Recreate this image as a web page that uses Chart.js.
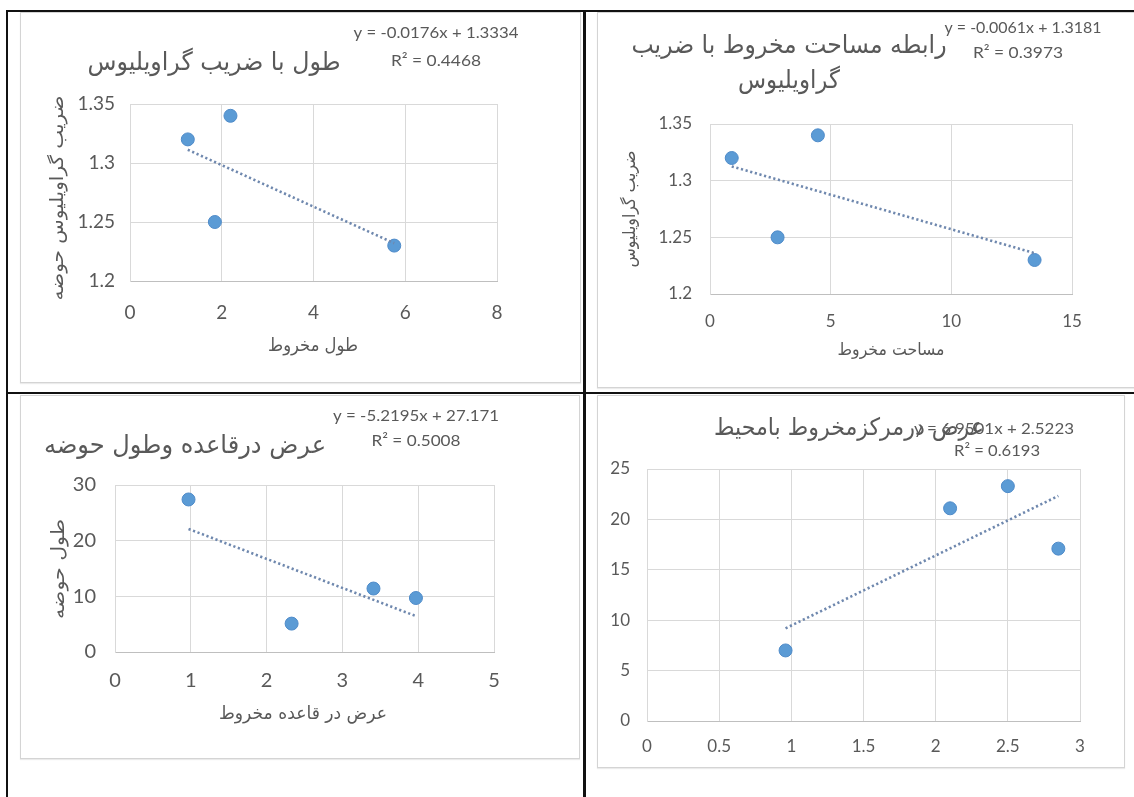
<!DOCTYPE html>
<html lang="fa">
<head>
<meta charset="utf-8">
<title>نمودارهای مخروط افکنه</title>
<script src="https://cdn.jsdelivr.net/npm/chart.js@4.4.1/dist/chart.umd.min.js"></script>
<style>
  html, body { margin: 0; padding: 0; background: #ffffff; }
  #sheet { position: relative; width: 1134px; height: 797px; overflow: hidden; background: #ffffff; }
  .rule { position: absolute; background: #111111; }
  .frame { position: absolute; box-sizing: border-box; border: 1px solid #d4d4d4; background: #ffffff;
           box-shadow: 0 1px 1px rgba(0,0,0,0.08); }
  .frame canvas { position: absolute; left: 0; top: 0; }
</style>
</head>
<body>
<div id="sheet">
  <div class="frame" style="left:20px;top:12px;width:561px;height:371px;"><canvas id="c1" width="559" height="369"></canvas></div>
  <div class="frame" style="left:597px;top:12px;width:545px;height:376px;"><canvas id="c2" width="543" height="374"></canvas></div>
  <div class="frame" style="left:20px;top:395px;width:560px;height:364px;"><canvas id="c3" width="558" height="362"></canvas></div>
  <div class="frame" style="left:597px;top:395px;width:528px;height:373px;"><canvas id="c4" width="526" height="371"></canvas></div>

  <!-- table rules -->
  <div class="rule" style="left:6px;top:10px;width:1128px;height:2px;"></div>
  <div class="rule" style="left:6px;top:10px;width:2px;height:787px;"></div>
  <div class="rule" style="left:583px;top:10px;width:3px;height:787px;"></div>
  <div class="rule" style="left:6px;top:392px;width:1128px;height:2px;"></div>
</div>

<script>
// ---- data: طول با ضریب گراویلیوس ----
const coneLength      = [1.26, 2.19, 1.85, 5.76];
const graveliusByLen  = [1.32, 1.34, 1.25, 1.23];
const trendLen        = { slope: -0.0176, intercept: 1.3334, r2: '0.4468' };
const lenTicksX       = [0, 2, 4, 6, 8];
const gravTicksY      = [1.2, 1.25, 1.3, 1.35];

// ---- data: رابطه مساحت مخروط با ضریب گراویلیوس ----
const coneArea        = [0.9, 4.47, 2.8, 13.45];
const graveliusByArea = [1.32, 1.34, 1.25, 1.23];
const trendArea       = { slope: -0.0061, intercept: 1.3181, r2: '0.3973' };
const areaTicksX      = [0, 5, 10, 15];

// ---- data: عرض درقاعده وطول حوضه ----
const baseWidth       = [0.97, 2.33, 3.41, 3.97];
const basinLength     = [27.4, 5.1, 11.4, 9.7];
const trendBase       = { slope: -5.2195, intercept: 27.171, r2: '0.5008' };
const baseTicksX      = [0, 1, 2, 3, 4, 5];
const basinTicksY     = [0, 10, 20, 30];

// ---- data: عرض درمرکزمخروط بامحیط ----
const centerWidth     = [0.96, 2.10, 2.50, 2.85];
const perimeter       = [7.0, 21.1, 23.3, 17.1];
const trendCenter     = { slope: 6.9501, intercept: 2.5223, r2: '0.6193' };
const centerTicksX    = [0, 0.5, 1, 1.5, 2, 2.5, 3];
const perimTicksY     = [0, 5, 10, 15, 20, 25];

// ---- styling ----
const LATIN = "Lato, 'Open Sans', sans-serif";
const ARABIC = "'DejaVu Sans', sans-serif";
const INK = '#595959';
const GRID = '#d9d9d9';
const MARKER = '#5b9bd5';
const TREND = '#6f88ae';

// Free text (titles, axis names, trendline equations) drawn onto the chart canvas.
const sheetText = {
  id: 'sheetText',
  afterDraw(chart, args, opts) {
    const ctx = chart.ctx;
    (opts.items || []).forEach(it => {
      ctx.save();
      ctx.font = `${it.weight || 'normal'} ${it.size}px ${it.family}`;
      ctx.fillStyle = it.color || INK;
      ctx.textAlign = 'center';
      ctx.textBaseline = 'middle';
      ctx.translate(it.x, it.y);
      if (it.rot) ctx.rotate(it.rot * Math.PI / 180);
      if (it.fit) {
        const w = ctx.measureText(it.text).width;
        ctx.scale(it.fit / w, 1);
      }
      ctx.fillText(it.text, 0, 0);
      ctx.restore();
    });
  }
};
Chart.register(sheetText);

function eqText(t) {
  const sign = t.intercept < 0 ? '- ' : '+ ';
  return `y = ${t.slope}x ${sign}${Math.abs(t.intercept)}`;
}

function trendPoints(xs, t) {
  const lo = Math.min(...xs), hi = Math.max(...xs);
  return [lo, hi].map(x => ({ x, y: t.slope * x + t.intercept }));
}

function axis(ticks, min, max, fitSize, isX, tickFont, tickPad) {
  return {
    type: 'linear',
    min, max,
    afterBuildTicks: s => { s.ticks = ticks.map(v => ({ value: v })); },
    afterFit: s => { if (isX) s.height = fitSize; else s.width = fitSize; },
    grid: { color: GRID, lineWidth: 1, drawTicks: false },
    border: { display: true, color: isX ? '#bfbfbf' : GRID, width: 1 },
    ticks: {
      color: INK,
      padding: tickPad,
      font: { family: LATIN, size: tickFont },
      callback: v => String(v)
    }
  };
}

function build(id, xs, ys, trend, xTicks, yTicks, box, tickFont, pads, texts) {
  const canvas = document.getElementById(id);
  const W = canvas.width, H = canvas.height;
  const pts = xs.map((x, i) => ({ x, y: ys[i] }));
  new Chart(canvas, {
    type: 'scatter',
    data: {
      datasets: [
        { data: pts, backgroundColor: MARKER, borderColor: '#4f8bc9', borderWidth: 1,
          pointRadius: 6.5, pointHoverRadius: 6.5, order: 2 },
        { type: 'line', data: trendPoints(xs, trend), borderColor: TREND, borderWidth: 2.6,
          borderDash: [2.2, 2.6], pointRadius: 0, fill: false, order: 1 }
      ]
    },
    options: {
      responsive: false,
      animation: false,
      devicePixelRatio: 1,
      layout: { padding: { left: 0, top: box.top, right: W - box.right, bottom: 0 } },
      plugins: {
        legend: { display: false },
        tooltip: { enabled: false },
        sheetText: { items: texts }
      },
      scales: {
        x: axis(xTicks, xTicks[0], xTicks[xTicks.length - 1], H - box.bottom, true, tickFont, pads.x),
        y: axis(yTicks, yTicks[0], yTicks[yTicks.length - 1], box.left, false, tickFont, pads.y)
      }
    }
  });
}

// Chart 1
build('c1', coneLength, graveliusByLen, trendLen, lenTicksX, gravTicksY,
  { left: 109, right: 476, top: 91, bottom: 268 }, 19, { x: 20, y: 15 },
  [
    { text: 'طول با ضریب گراویلیوس', x: 193, y: 50, size: 25, family: ARABIC, fit: 253 },
    { text: eqText(trendLen), x: 415, y: 20, size: 16, family: LATIN, fit: 165 },
    { text: 'R² = ' + trendLen.r2, x: 415, y: 48, size: 16, family: LATIN, fit: 90 },
    { text: 'ضریب گراویلیوس حوضه', x: 37, y: 185, size: 18, family: ARABIC, rot: -90, fit: 205 },
    { text: 'طول مخروط', x: 292, y: 333, size: 18, family: ARABIC, fit: 90 }
  ]);

// Chart 2
build('c2', coneArea, graveliusByArea, trendArea, areaTicksX, gravTicksY,
  { left: 112, right: 474, top: 111, bottom: 281 }, 17, { x: 17, y: 18 },
  [
    { text: 'رابطه مساحت مخروط با ضریب', x: 191, y: 33, size: 25, family: ARABIC, fit: 315 },
    { text: 'گراویلیوس', x: 191, y: 68, size: 25, family: ARABIC, fit: 102 },
    { text: eqText(trendArea), x: 425, y: 15, size: 16, family: LATIN, fit: 157 },
    { text: 'R² = ' + trendArea.r2, x: 420, y: 40, size: 16, family: LATIN, fit: 90 },
    { text: 'ضریب گراویلیوس', x: 33, y: 196, size: 17, family: ARABIC, rot: -90, fit: 117 },
    { text: 'مساحت مخروط', x: 293, y: 338, size: 17, family: ARABIC, fit: 107 }
  ]);

// Chart 3
build('c3', baseWidth, basinLength, trendBase, baseTicksX, basinTicksY,
  { left: 94, right: 473, top: 89, bottom: 256 }, 20, { x: 17, y: 19 },
  [
    { text: 'عرض درقاعده وطول حوضه', x: 164, y: 50, size: 25, family: ARABIC, fit: 282 },
    { text: eqText(trendBase), x: 395, y: 20, size: 16, family: LATIN, fit: 166 },
    { text: 'R² = ' + trendBase.r2, x: 395, y: 45, size: 16, family: LATIN, fit: 89 },
    { text: 'طول حوضه', x: 38, y: 173, size: 18, family: ARABIC, rot: -90, fit: 100 },
    { text: 'عرض در قاعده مخروط', x: 282, y: 318, size: 18, family: ARABIC, fit: 168 }
  ]);

// Chart 4
build('c4', centerWidth, perimeter, trendCenter, centerTicksX, perimTicksY,
  { left: 49, right: 482, top: 73, bottom: 325 }, 17, { x: 15, y: 17 },
  [
    { text: 'عرض درمرکزمخروط بامحیط', x: 251, y: 33, size: 24, family: ARABIC, fit: 270 },
    { text: eqText(trendCenter), x: 396, y: 33, size: 16, family: LATIN, fit: 160 },
    { text: 'R² = ' + trendCenter.r2, x: 399, y: 55, size: 16, family: LATIN, fit: 86 }
  ]);
</script>
</body>
</html>
